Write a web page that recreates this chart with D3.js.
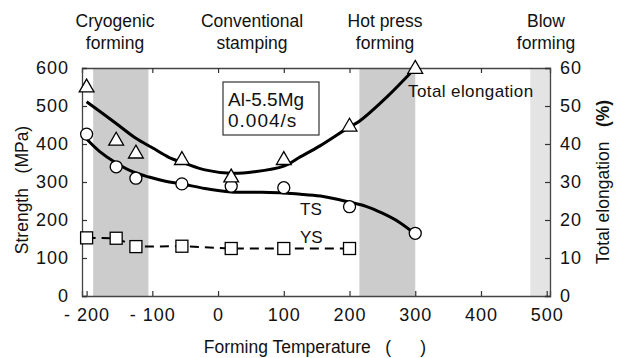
<!DOCTYPE html>
<html>
<head>
<meta charset="utf-8">
<script src="https://cdn.jsdelivr.net/npm/d3@7"></script>
<style>
  body { margin: 0; background: #fff; }
  text { font-family: Arial, "Liberation Sans", sans-serif; fill: #111; }
</style>
</head>
<body>
<script>
// measured points
const temps = [-200, -155, -125, -55, 20, 100, 200, 300];
const tsData = [426, 340, 310, 295, 289, 285, 235, 165];
const ysData = [153, 152, 130, 131, 125, 125, 125];
const elongData = [55.1, 41.1, 37.7, 36.0, 31.4, 36.0, 44.8, 60.0];

// fitted curves
const tsFitT = [-200, -180, -155, -130, -105, -80, -55, -20, 20, 60, 100, 130, 160, 200, 225, 250, 275, 300];
const tsFit = [413, 380, 350, 327, 313, 302, 295, 283, 274, 273, 271, 267, 262, 247, 236, 218, 195, 163];
const elongFitT = [-200, -155, -125, -100, -75, -50, -20, 20, 55, 100, 125, 155, 200, 215, 257, 300];
const elongFit = [51.1, 45.4, 41.5, 39.0, 36.5, 34.9, 33.2, 32.3, 32.7, 34.2, 36.6, 39.5, 44.5, 46.0, 52.4, 60.0];

// shaded forming windows
const bands = [[-190, -106, '#cccccc'], [215, 300, '#cccccc'], [475, 505, '#e4e4e4']];
const regions = [['Cryogenic', 'forming', 115], ['Conventional', 'stamping', 252], ['Hot press', 'forming', 385], ['Blow', 'forming', 546]];

const xTicks = [-200, -100, 0, 100, 200, 300, 400, 500];
const yTicks = [0, 100, 200, 300, 400, 500, 600];
const rTicks = [0, 10, 20, 30, 40, 50, 60];

const svg = d3.select('body').append('svg')
    .attr('width', 622)
    .attr('height', 358);

const x = d3.scaleLinear().domain([-207, 505]).range([82, 550]);
const y = d3.scaleLinear().domain([0, 600]).range([296, 68]);
const yr = d3.scaleLinear().domain([0, 60]).range([296, 68]);

// bands
svg.selectAll('rect.band').data(bands).enter().append('rect')
    .attr('x', d => x(d[0]))
    .attr('width', d => x(d[1]) - x(d[0]))
    .attr('y', y(600))
    .attr('height', y(0) - y(600))
    .attr('fill', d => d[2]);

// axes, ticks inward
let fmtX = d => d < 0 ? '- ' + Math.abs(d) : '' + d;
let axBottom = svg.append('g').attr('transform', `translate(0,${y(0)})`)
    .call(d3.axisBottom(x).tickValues(xTicks).tickSize(-5).tickPadding(12).tickFormat(fmtX));
let axTop = svg.append('g').attr('transform', `translate(0,${y(600)})`)
    .call(d3.axisTop(x).tickValues(xTicks.slice(1, -1)).tickSize(-5).tickFormat(''));
let axLeft = svg.append('g').attr('transform', `translate(${x(-207)},0)`)
    .call(d3.axisLeft(y).tickValues(yTicks).tickSize(-5).tickPadding(13));
let axRight = svg.append('g').attr('transform', `translate(${x(505)},0)`)
    .call(d3.axisRight(yr).tickValues(rTicks).tickSize(-5).tickPadding(10));

[axBottom, axTop, axLeft, axRight].forEach(g => {
    g.select('.domain').attr('stroke', '#444').attr('stroke-width', 1.3);
    g.selectAll('.tick line').attr('stroke', '#333').attr('stroke-width', 1.2);
    g.selectAll('text').style('font-size', '18px').style('letter-spacing', '1px').attr('fill', '#111');
});
axBottom.selectAll('.tick text').style('white-space', 'pre');

// curves
let line = d3.line().curve(d3.curveCatmullRom);
svg.append('path')
    .datum(tsFitT.map((t, i) => [x(t), y(tsFit[i])]))
    .attr('d', line).attr('fill', 'none').attr('stroke', '#000').attr('stroke-width', 3);
svg.append('path')
    .datum(elongFitT.map((t, i) => [x(t), yr(elongFit[i])]))
    .attr('d', line).attr('fill', 'none').attr('stroke', '#000').attr('stroke-width', 3);

// YS dashed
svg.append('path')
    .datum(ysData.map((v, i) => [x(temps[i]), y(v)]))
    .attr('d', d3.line())
    .attr('fill', 'none').attr('stroke', '#000').attr('stroke-width', 2)
    .attr('stroke-dasharray', '9,6');

// markers
svg.selectAll('rect.ys').data(ysData).enter().append('rect')
    .attr('x', (d, i) => x(temps[i]) - 6)
    .attr('y', d => y(d) - 6)
    .attr('width', 12).attr('height', 12)
    .attr('fill', '#fff').attr('stroke', '#000').attr('stroke-width', 1.3);

svg.selectAll('circle.ts').data(tsData).enter().append('circle')
    .attr('cx', (d, i) => x(temps[i]))
    .attr('cy', d => y(d))
    .attr('r', 6)
    .attr('fill', '#fff').attr('stroke', '#000').attr('stroke-width', 1.3);

let tri = d3.symbol().type(d3.symbolTriangle).size(95);
svg.selectAll('path.te').data(elongData).enter().append('path')
    .attr('d', tri)
    .attr('transform', (d, i) => `translate(${x(temps[i])},${yr(d) + 1})`)
    .attr('fill', '#fff').attr('stroke', '#000').attr('stroke-width', 1.3);

// series labels
svg.append('text').attr('x', 300).attr('y', 215).style('font-size', '17px').text('TS');
svg.append('text').attr('x', 300).attr('y', 243).style('font-size', '17px').text('YS');
svg.append('text').attr('x', 408).attr('y', 97).style('font-size', '17px').style('letter-spacing', '0.4px').text('Total elongation');

// alloy box
svg.append('rect')
    .attr('x', 223).attr('y', 82).attr('width', 96).attr('height', 53)
    .attr('fill', '#fff').attr('stroke', '#333').attr('stroke-width', 1.2);
svg.append('text').attr('x', 228).attr('y', 106).style('font-size', '19px').text('Al-5.5Mg');
svg.append('text').attr('x', 228).attr('y', 127).style('font-size', '19px').style('letter-spacing', '1px').text('0.004/s');

// region labels on top
regions.forEach(r => {
    svg.append('text').attr('x', r[2]).attr('y', 27).attr('text-anchor', 'middle').style('font-size', '17.5px').text(r[0]);
    svg.append('text').attr('x', r[2]).attr('y', 49).attr('text-anchor', 'middle').style('font-size', '17.5px').text(r[1]);
});

// axis titles
svg.append('text')
    .attr('transform', 'translate(28,190) rotate(-90)')
    .attr('text-anchor', 'middle').style('font-size', '17.5px').style('white-space', 'pre')
    .text('Strength   (MPa)');
let rt = svg.append('text')
    .attr('transform', 'translate(609,182) rotate(-90)')
    .attr('text-anchor', 'middle').style('font-size', '17.5px').style('white-space', 'pre');
rt.append('tspan').text('Total elongation   ');
rt.append('tspan').style('font-weight', 'bold').text('(%)');
svg.append('text')
    .attr('x', 315).attr('y', 353)
    .attr('text-anchor', 'middle').style('font-size', '17.5px').style('white-space', 'pre')
    .text('Forming Temperature   (      )');
</script>
</body>
</html>
